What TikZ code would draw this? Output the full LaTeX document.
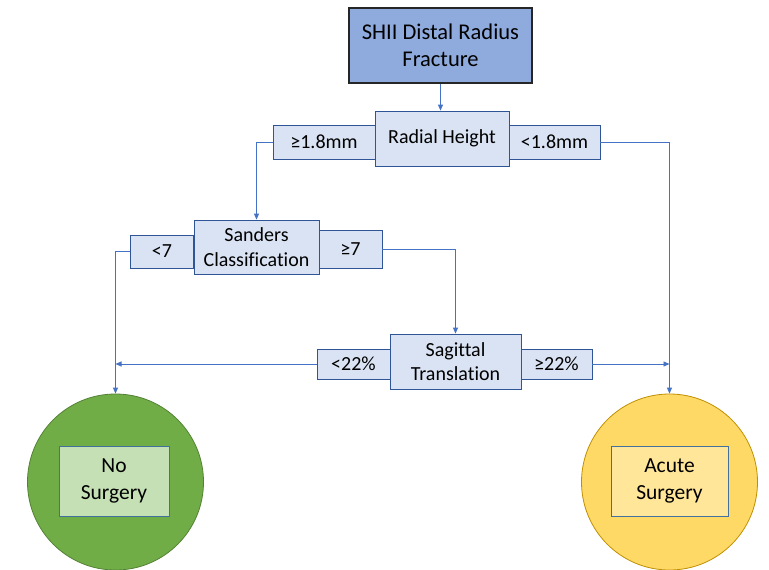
\documentclass[tikz,border=0pt]{standalone}
\usepackage{fontspec}
\setmainfont{Carlito}[Ligatures=NoCommon]
\usetikzlibrary{arrows.meta}
\definecolor{lineblue}{HTML}{4472C4}
\definecolor{lightfill}{HTML}{DAE3F3}
\definecolor{boxborder}{HTML}{2F5597}
\definecolor{topfill}{HTML}{8FAADC}
\definecolor{topborder}{HTML}{262626}
\definecolor{greenfill}{HTML}{70AD47}
\definecolor{greenborder}{HTML}{548235}
\definecolor{greeninner}{HTML}{C5E0B4}
\definecolor{yellowfill}{HTML}{FFD966}
\definecolor{yellowborder}{HTML}{BF9000}
\definecolor{yellowinner}{HTML}{FFE699}
\definecolor{innerborder}{HTML}{41719C}
\tikzset{
  conn/.style={draw=lineblue, line width=0.9pt, -{Triangle[length=6pt,width=5pt]}},
  decbox/.style={draw=boxborder, fill=lightfill, line width=0.8pt, align=center, inner sep=0pt,
     font=\fontsize{20}{24.5}\selectfont},
  labbox/.style={draw=boxborder, fill=lightfill, line width=0.8pt, inner sep=0pt,
     font=\fontsize{20}{24}\selectfont},
  titlebox/.style={draw=topborder, fill=topfill, line width=1.2pt, align=center, inner sep=0pt,
     font=\fontsize{22.5}{27}\selectfont},
  outcome/.style={circle, minimum size=176pt, inner sep=0pt, line width=0.8pt},
  innerbox/.style={draw=innerborder, line width=0.8pt, align=center, inner sep=0pt,
     font=\fontsize{21.5}{27}\selectfont},
}
\begin{document}
\begin{tikzpicture}[x=1pt, y=-1pt]
\useasboundingbox[fill=white] (0,0) rectangle (769,570);

% outcome circles
\node[outcome, draw=greenborder, fill=greenfill] (nosurg) at (115.5,482) {};
\node[outcome, draw=yellowborder, fill=yellowfill] (acute) at (669.5,482) {};
\node[innerbox, fill=greeninner, minimum width=110pt, minimum height=70pt] (noin) at (114,481) {No\\Surgery};
\node[innerbox, fill=yellowinner, minimum width=117pt, minimum height=70pt] (acin) at (669.5,481) {Acute\\Surgery};

% title
\node[titlebox, minimum width=183pt, minimum height=75pt] (top) at (440.5,45.5) {SHII Distal Radius\\Fracture};

% radial height
\node[labbox, minimum width=102pt, minimum height=34pt] (ge18) at (324,142) {≥1.8mm};
\node[labbox, minimum width=91pt, minimum height=34pt] (lt18) at (554.5,142) {<1.8mm};
\node[decbox, minimum width=134pt, minimum height=55pt] (rh) at (442,138.5) {Radial Height};

% sanders
\node[labbox, minimum width=63pt, minimum height=33pt] (lt7) at (162,251.5) {<7};
\node[labbox, minimum width=63pt, minimum height=38pt] (ge7) at (350.5,249) {≥7};
\node[decbox, minimum width=125pt, minimum height=54pt] (sand) at (256.5,247) {Sanders\\Classification};

% sagittal
\node[labbox, minimum width=73pt, minimum height=30pt] (lt22) at (353.5,364) {<22\%};
\node[labbox, minimum width=71pt, minimum height=30pt] (ge22) at (556.5,364) {≥22\%};
\node[decbox, minimum width=131pt, minimum height=55pt] (sag) at (455.5,361.5) {Sagittal\\Translation};

% connectors
\draw[conn] (top.south) -- (top.south |- rh.north);
\draw[conn] (ge18.west) -| (sand.north);
\draw[conn] (lt18.east) -| (acute.north);
\draw[conn] (lt7.west) -| (nosurg.north);
\draw[conn] (ge7.east) -| (sag.north);
\draw[conn] (lt22.west) -- (nosurg.north |- lt22.west);
\draw[conn] (ge22.east) -- (acute.north |- ge22.east);
\end{tikzpicture}
\end{document}
